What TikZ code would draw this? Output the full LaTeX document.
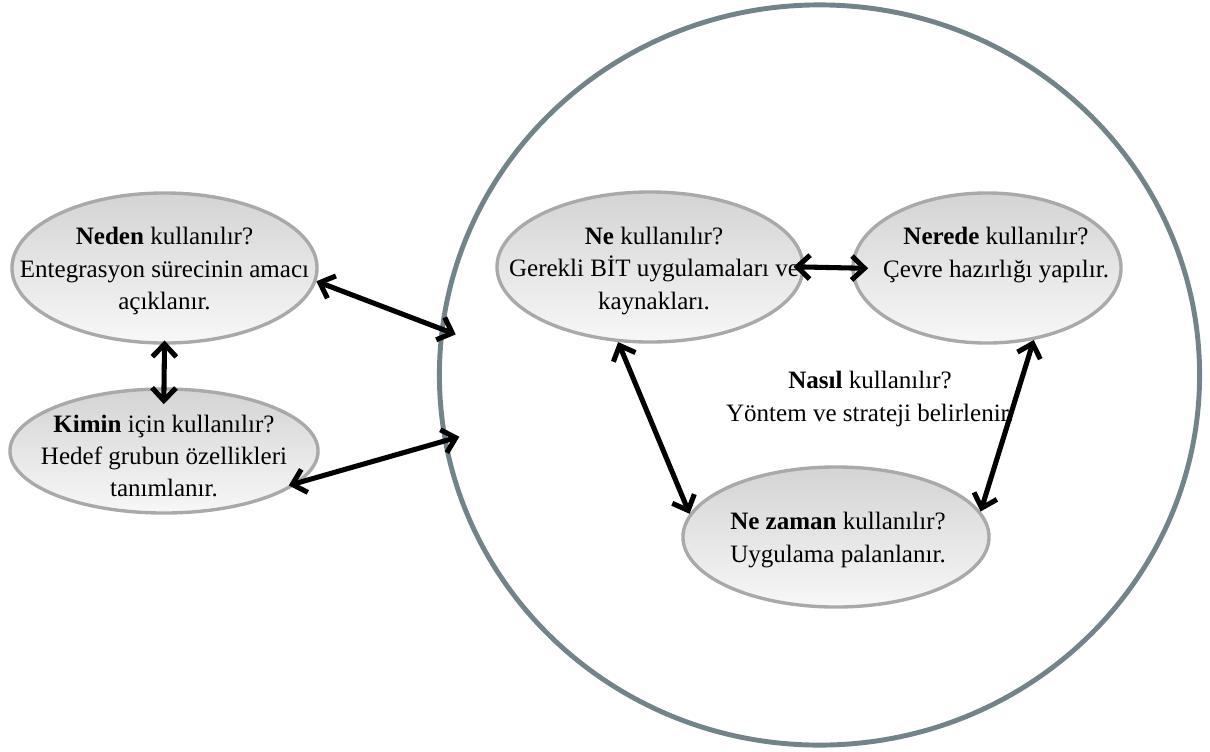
\documentclass[tikz,border=0pt]{standalone}
\usepackage{fontspec}
\setmainfont{Liberation Serif}
\usepackage{tikz}
\usetikzlibrary{positioning,arrows.meta,shapes.geometric}

\definecolor{ringgray}{HTML}{718489}
\definecolor{bubbleedge}{HTML}{A9A9A9}

\tikzset{
  bubble/.style={ellipse, draw=bubbleedge, line width=2.4pt, inner sep=0pt,
    top color=black!17, bottom color=black!3},
  bubbletext/.style={align=center, inner sep=0pt, font=\fontsize{17.8}{22.8}\selectfont},
  link/.style={line width=3.6pt, {Straight Barb[length=9pt,width=17pt,line width=3.6pt]}-{Straight Barb[length=9pt,width=17pt,line width=3.6pt]}}
}

\begin{document}
\begin{tikzpicture}[x=0.025cm,y=-0.025cm]
  \useasboundingbox (0,0) rectangle (1210,751);

  % big ring
  \node[ellipse, draw=ringgray, line width=3.5pt, minimum width=19cm, minimum height=18.5cm] (ring) at (819.5,375) {};

  % left bubbles
  \node[bubble, minimum width=7.625cm, minimum height=3.75cm] (neden) at (164.5,268) {};
  \node[bubbletext] (nedentext) at (164.5,271)
    {\textbf{Neden} kullanılır?\\Entegrasyon sürecinin amacı\\açıklanır.};
  \node[bubble, minimum width=7.7cm, minimum height=3.1cm] (kimin) at (164,451) {};
  \node[bubbletext] (kimintext) at (164,456)
    {\textbf{Kimin} için kullanılır?\\Hedef grubun özellikleri\\tanımlanır.};

  % bubbles inside the ring
  \node[bubble, minimum width=7.65cm, minimum height=3.75cm] (ne) at (650,267) {};
  \node[bubbletext] (netext) at (654,271)
    {\textbf{Ne} kullanılır?\\Gerekli BİT uygulamaları ve\\kaynakları.};
  \node[bubble, minimum width=6.7cm, minimum height=3.75cm] (nerede) at (987,268) {};
  \node[bubbletext] (neredetext) at (996,255)
    {\textbf{Nerede} kullanılır?\\Çevre hazırlığı yapılır.};
  \node[bubble, minimum width=7.65cm, minimum height=3.5cm] (nezaman) at (836,537) {};
  \node[bubbletext] (nezamantext) at (838,540)
    {\textbf{Ne zaman} kullanılır?\\Uygulama palanlanır.};
  \node[bubbletext] (nasil) at (870,399)
    {\textbf{Nasıl} kullanılır?\\Yöntem ve strateji belirlenir.};

  % connectors
  \draw[link, shorten <=-3pt, shorten >=-12pt] (neden.south) -- (kimin.north);
  \draw[link, shorten >=-12pt] (neden.-5) -- (ring.173);
  \draw[link, shorten <=-8pt, shorten >=-12pt] (kimin.-13) -- (ring.190);
  \draw[link, shorten <=-8pt, shorten >=-12pt] (ne.east) -- (nerede.west);
  \draw[link] (ne.-113) -- (nezaman.171);
  \draw[link] (nerede.-57) -- (nezaman.10);
\end{tikzpicture}
\end{document}
